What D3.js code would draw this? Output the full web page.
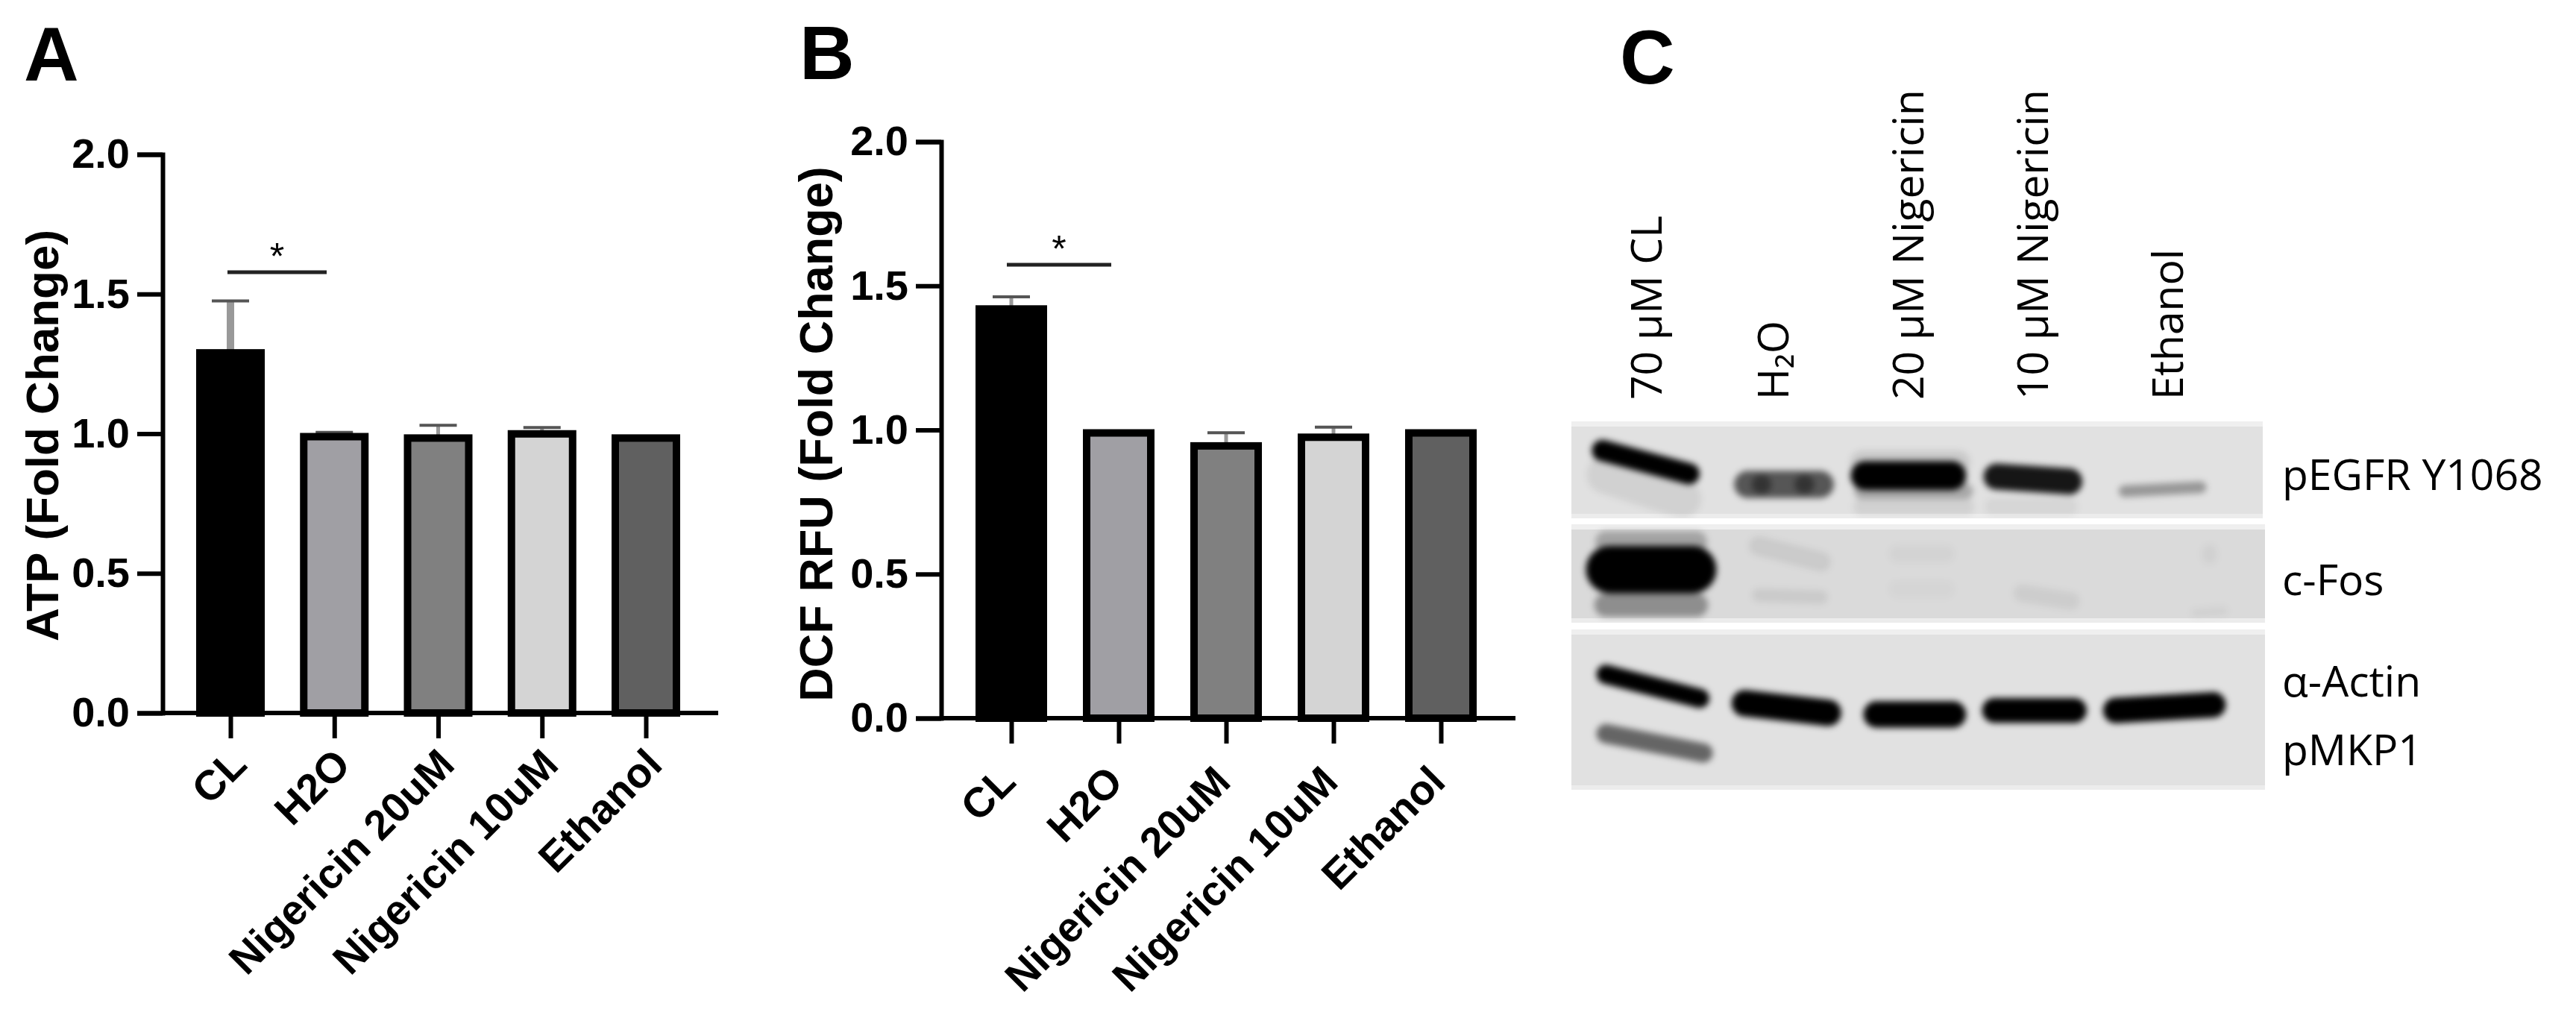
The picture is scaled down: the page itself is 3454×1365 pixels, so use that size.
<!DOCTYPE html>
<html>
<head>
<meta charset="utf-8">
<script src="https://cdnjs.cloudflare.com/ajax/libs/d3/7.8.5/d3.min.js"></script>
<style>
  html, body { margin: 0; background: #fff; }
  svg { display: block; }
  text { fill: #000; }
</style>
</head>
<body>
<script>
// bar chart data
var categories = ['CL', 'H2O', 'Nigericin 20uM', 'Nigericin 10uM', 'Ethanol']
var yTicks = [0, 0.5, 1, 1.5, 2]

var atpValues = [1.30, 1.00, 0.995, 1.01, 0.995]
var atpErrors = [0.175, 0.005, 0.035, 0.012, 0]

var dcfValues = [1.43, 1.00, 0.955, 0.985, 1.00]
var dcfErrors = [0.032, 0, 0.035, 0.025, 0]

var barFills = ['#000000', '#a09fa4', '#808080', '#d4d4d4', '#606060']

// western blot panel C
var laneLabels = ['70 µM CL', 'H₂O', '20 µM Nigericin', '10 µM Nigericin', 'Ethanol']
var proteinLabels = ['pEGFR Y1068', 'c-Fos', 'α-Actin', 'pMKP1']

// bands: x1, y1, x2, y2, thickness (all % of the blot), density 0-1
var egfrBands = [
  [4.5, 30, 17, 54, 22, 1],
  [5, 55, 16, 80, 40, 0.07],
  [25.5, 65, 36, 65, 28, 0.62],
  [27.5, 65, 27.5, 65, 20, 0.4],
  [33.7, 65, 33.7, 65, 20, 0.4],
  [42.5, 56, 55, 56, 30, 1],
  [42, 42, 56, 42, 24, 0.1],
  [42, 72, 57, 72, 16, 0.25],
  [42, 88, 57, 88, 18, 0.07],
  [61.5, 57, 72, 62, 27, 0.9],
  [61, 88, 72, 88, 18, 0.05],
  [80, 72, 91, 68, 12, 0.33]
]
var fosBands = [
  [5.5, 46, 17.5, 46, 48, 1],
  [5, 18, 18, 18, 22, 0.25],
  [5, 82, 18, 82, 24, 0.35],
  [27, 22, 36, 38, 20, 0.07],
  [27, 72, 36, 74, 14, 0.07],
  [47, 30, 54, 30, 18, 0.03],
  [47, 66, 54, 66, 18, 0.025],
  [65, 70, 72, 78, 18, 0.06],
  [92, 28, 92, 33, 16, 0.04],
  [90, 90, 94, 88, 10, 0.04]
]
var actinBands = [
  [5, 28, 18.5, 43, 12, 1],
  [25, 46, 37, 52, 16.5, 1],
  [44, 53, 55, 53, 16.5, 1],
  [61, 50.5, 72.5, 50.5, 15.5, 1],
  [78.5, 50.5, 92.5, 47, 16, 1],
  [5, 65, 19, 77, 12, 0.55]
]

var width = 3454, height = 1365
var svg = d3.select('body').append('svg').attr('width', width).attr('height', height)

var sans = '"Liberation Sans", Arial, sans-serif'
var calibri = '"Open Sans", sans-serif'

function panelLetter(letter, x, y) {
  svg.append('text').attr('x', x).attr('y', y).text(letter)
    .attr('font-family', sans).attr('font-weight', 700).attr('font-size', 102)
}

// one bar chart, box = pixel extents of axes
function drawBars(box, values, errors, yLabel, sig) {
  var x = d3.scalePoint().domain(categories).range([box.c0, box.c1])
  var y = d3.scaleLinear().domain([0, 2]).range([box.y0, box.y1])
  var g = svg.append('g')

  g.selectAll('line.err')
    .data(values).enter().append('line')
    .attr('x1', (d, i) => x(categories[i])).attr('x2', (d, i) => x(categories[i]))
    .attr('y1', d => y(d)).attr('y2', (d, i) => y(d + errors[i]))
    .attr('stroke', '#999').attr('stroke-width', (d, i) => errors[i] > 0.1 ? 10 : 5)
  g.selectAll('line.cap')
    .data(values.filter((d, i) => errors[i] > 0)).enter().append('line')
    .each(function (d) {
      var i = values.indexOf(d)
      d3.select(this)
        .attr('x1', x(categories[i]) - 25).attr('x2', x(categories[i]) + 25)
        .attr('y1', y(d + errors[i])).attr('y2', y(d + errors[i]))
    })
    .attr('stroke', '#555').attr('stroke-width', 4)

  g.selectAll('rect')
    .data(values).enter().append('rect')
    .attr('x', (d, i) => x(categories[i]) - box.bar / 2 + 5)
    .attr('width', box.bar - 10)
    .attr('y', d => y(d) + 4)
    .attr('height', d => y(0) - y(d) - 4)
    .attr('fill', (d, i) => barFills[i])
    .attr('stroke', '#000').attr('stroke-width', 10)

  var yAxis = g.append('g').attr('transform', 'translate(' + box.x0 + ',0)')
    .call(d3.axisLeft(y).tickValues(yTicks).tickFormat(d3.format('.1f')).tickSize(34).tickPadding(10))
  var xAxis = g.append('g').attr('transform', 'translate(0,' + box.y0 + ')')
    .call(d3.axisBottom(x).tickSize(34).tickFormat(d => d))
  xAxis.select('.domain').attr('d', 'M' + box.x0 + ',0H' + box.x2)

  g.selectAll('.domain, .tick line').attr('stroke', '#000').attr('stroke-width', 6)
  g.selectAll('.tick text').attr('font-family', sans).attr('font-weight', 700).attr('fill', '#000')
  yAxis.selectAll('.tick text').attr('font-size', 56)
  xAxis.selectAll('.tick text')
    .attr('font-size', 56)
    .attr('text-anchor', 'end')
    .attr('dy', 0)
    .attr('transform', 'translate(' + box.tickDx + ',' + box.tickDy + ') rotate(-45)')

  g.append('text').text(yLabel)
    .attr('transform', 'translate(' + box.labelX + ',' + box.labelY + ') rotate(-90)')
    .attr('text-anchor', 'middle')
    .attr('font-family', sans).attr('font-weight', 700).attr('font-size', box.labelSize)

  g.append('line')
    .attr('x1', sig.x1).attr('x2', sig.x2).attr('y1', sig.y).attr('y2', sig.y)
    .attr('stroke', '#222').attr('stroke-width', 5)
  g.append('text').text('*')
    .attr('x', (sig.x1 + sig.x2) / 2).attr('y', sig.y - 4)
    .attr('text-anchor', 'middle')
    .attr('font-family', sans).attr('font-size', 50)
}

panelLetter('A', 32, 108)
panelLetter('B', 1072, 106)
panelLetter('C', 2172, 112)

drawBars({ x0: 218, x2: 963, y0: 956, y1: 207, c0: 309, c1: 866, bar: 92, labelX: 78, labelY: 584, labelSize: 62, tickDx: -2, tickDy: 46 },
  atpValues, atpErrors, 'ATP (Fold Change)', { x1: 305, x2: 438, y: 365 })
drawBars({ x0: 1262, x2: 2032, y0: 963, y1: 190, c0: 1356, c1: 1932, bar: 96, labelX: 1116, labelY: 582, labelSize: 63, tickDx: -18, tickDy: 62 },
  dcfValues, dcfErrors, 'DCF RFU (Fold Change)', { x1: 1350, x2: 1490, y: 355 })

// panel C
var defs = svg.append('defs')
defs.append('filter').attr('id', 'blur').attr('x', '-30%').attr('y', '-60%').attr('width', '160%').attr('height', '220%')
  .append('feGaussianBlur').attr('stdDeviation', 4.5)

function drawBlot(id, box, bands, bg) {
  var x = d3.scaleLinear().domain([0, 100]).range([box.x, box.x + box.w])
  var y = d3.scaleLinear().domain([0, 100]).range([box.y, box.y + box.h])
  defs.append('clipPath').attr('id', id).append('rect')
    .attr('x', box.x).attr('y', box.y).attr('width', box.w).attr('height', box.h)

  var g = svg.append('g').attr('clip-path', 'url(#' + id + ')')
  g.append('rect').attr('x', box.x).attr('y', box.y).attr('width', box.w).attr('height', box.h).attr('fill', bg)
  g.append('rect').attr('x', box.x).attr('y', box.y).attr('width', box.w).attr('height', 7).attr('fill', '#efefef')
  g.append('rect').attr('x', box.x).attr('y', box.y + box.h - 6).attr('width', box.w).attr('height', 6).attr('fill', '#ececec')

  g.append('g').attr('filter', 'url(#blur)')
    .selectAll('line').data(bands).enter().append('line')
    .attr('x1', d => x(d[0])).attr('y1', d => y(d[1]))
    .attr('x2', d => x(d[2]) + 0.01).attr('y2', d => y(d[3]))
    .attr('stroke', '#000')
    .attr('stroke-opacity', d => d[5])
    .attr('stroke-width', d => d[4] / 100 * box.h)
    .attr('stroke-linecap', 'round')
}

drawBlot('blot1', { x: 2107, y: 565, w: 927, h: 130 }, egfrBands, '#e1e1e1')
drawBlot('blot2', { x: 2107, y: 703, w: 930, h: 132 }, fosBands, '#dadada')
drawBlot('blot3', { x: 2107, y: 844, w: 930, h: 215 }, actinBands, '#e1e1e1')

svg.selectAll('text.lane')
  .data(laneLabels).enter().append('text')
  .attr('class', 'lane')
  .attr('transform', (d, i) => 'translate(' + [2228, 2398, 2579, 2746, 2927][i] + ',536) rotate(-90)')
  .attr('font-family', calibri).attr('font-size', 57)
  .text(d => d)

svg.selectAll('text.protein')
  .data(proteinLabels).enter().append('text')
  .attr('class', 'protein')
  .attr('x', 3060)
  .attr('y', (d, i) => [657, 798, 934, 1026][i])
  .attr('font-family', calibri).attr('font-size', 57)
  .text(d => d)
</script>
</body>
</html>
